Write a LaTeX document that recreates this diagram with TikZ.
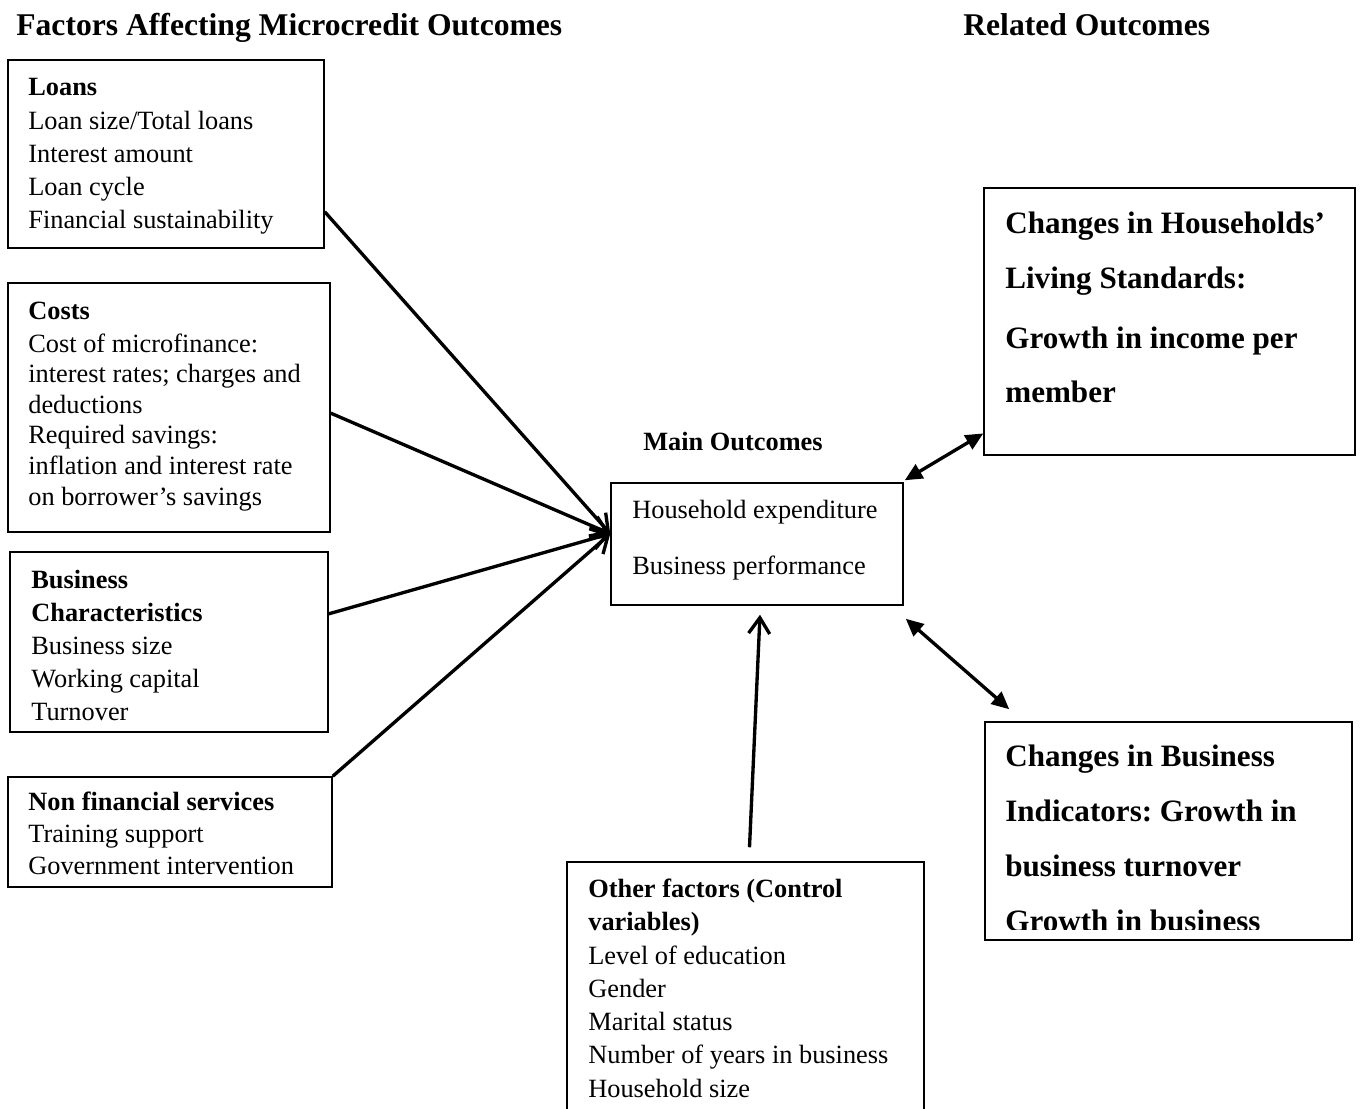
\documentclass[tikz,border=0pt]{standalone}
\usepackage{fontspec}
\setmainfont{Liberation Serif}
\frenchspacing
\usetikzlibrary{arrows.meta, fit, calc}
\tikzset{
  >=latex,
  % Riquadri e testi
  box/.style={draw, line width=0.85pt, inner sep=0pt},
  txt/.style={anchor=base west, inner sep=0pt, font=\fontsize{15}{18}\selectfont},
  txt bold/.style={txt, font=\fontsize{15}{18}\selectfont\bfseries},
  title/.style={anchor=base west, inner sep=0pt, font=\fontsize{18}{22}\selectfont\bfseries},
  big/.style={anchor=base west, inner sep=0pt, font=\fontsize{17.7}{21}\selectfont\bfseries},
  % Connessioni
  connect arrow/.style={-{Straight Barb[length=9pt,width=12pt]}, line width=1.9pt},
  connect both/.style={{Triangle[length=10pt,width=9pt]}-{Triangle[length=10pt,width=9pt]}, line width=1.9pt}
}
\begin{document}
\begin{tikzpicture}[x=0.02cm, y=-0.02cm]
        \useasboundingbox (0,0) rectangle (1360,1109);
        \node[title] (ttl-left) at (16,35) {Factors Affecting Microcredit Outcomes};
        \node[title] (ttl-right) at (963,35) {Related Outcomes};
        % riquadri
        \node[box, fit={(8,60) (324,248)}] (loans) {};
        \node[box, fit={(8,283) (330,532)}] (costs) {};
        \node[box, fit={(10,552) (328,732)}] (biz) {};
        \node[box, fit={(8,777) (332,887)}] (nonfin) {};
        \node[box, fit={(611,483) (903,605)}] (main) {};
        \node[box, fit={(567,862) (924,1130)}] (other) {};
        \node[box, fit={(984,188) (1355,455)}] (house) {};
        \node[box, fit={(985,722) (1352,940)}] (bind) {};
        % fattori
        \node[txt bold] (loans-h) at (28,95) {Loans};
        \foreach \t [count=\i from 0] in {Loan size/Total loans, Interest amount,
                                          Loan cycle, Financial sustainability}{
          \node[txt] (loans-\i) at (28,129+33*\i) {\t};
        }
        \node[txt bold] (costs-h) at (28,319) {Costs};
        \foreach \t [count=\i from 0] in {Cost of microfinance:, interest rates; charges and,
                                          deductions, Required savings:, inflation and interest rate,
                                          on borrower’s savings}{
          \node[txt] (costs-\i) at (28,352+30.6*\i) {\t};
        }
        \node[txt bold] (biz-h1) at (31,588) {Business};
        \node[txt bold] (biz-h2) at (31,621) {Characteristics};
        \foreach \t [count=\i from 0] in {Business size, Working capital, Turnover}{
          \node[txt] (biz-\i) at (31,654+33*\i) {\t};
        }
        \node[txt bold] (nonfin-h) at (28,810) {Non financial services};
        \foreach \t [count=\i from 0] in {Training support, Government intervention}{
          \node[txt] (nonfin-\i) at (28,842+32*\i) {\t};
        }
        % esiti principali
        \node[txt bold] (main-h) at (643,450) {Main Outcomes};
        \node[txt] (main-0) at (632,518) {Household expenditure};
        \node[txt] (main-1) at (632,574) {Business performance};
        % variabili di controllo
        \node[txt bold] (other-h1) at (588,897) {Other factors (Control};
        \node[txt bold] (other-h2) at (588,930) {variables)};
        \foreach \t [count=\i from 0] in {Level of education, Gender, Marital status,
                                          Number of years in business, Household size}{
          \node[txt] (other-\i) at (588,964+33.3*\i) {\t};
        }
        % esiti correlati
        \node[big] (house-0) at (1005,233) {Changes in Households’};
        \node[big] (house-1) at (1005,288) {Living Standards:};
        \node[big] (house-2) at (1005,348) {Growth in income per};
        \node[big] (house-3) at (1005,402) {member};
        \begin{scope}
          \clip (985,722) rectangle (1352,929);
          \node[big] (bind-0) at (1005,766) {Changes in Business};
          \node[big] (bind-1) at (1005,821) {Indicators: Growth in};
          \node[big] (bind-2) at (1005,876) {business turnover};
          \node[big] (bind-3) at (1005,931) {Growth in business};
        \end{scope}
        % frecce
        \draw[connect arrow] (loans.-20) -- (main.176);
        \draw[connect arrow] (costs.-2) -- (main.176);
        \draw[connect arrow] (biz.10) -- (main.176);
        \draw[connect arrow] (nonfin.north east) -- (main.176);
        \draw[connect arrow] ($(other.north)+(4,-14)$) -- ($(main.south)+(3,9)$);
        \draw[connect both] ($(main.north east)+(1,-2)$) -- (house.211);
        \draw[connect both] ($(main.south east)+(2,13)$) -- ($(bind.north west)+(25,-12)$);
      \end{tikzpicture}
\end{document}
